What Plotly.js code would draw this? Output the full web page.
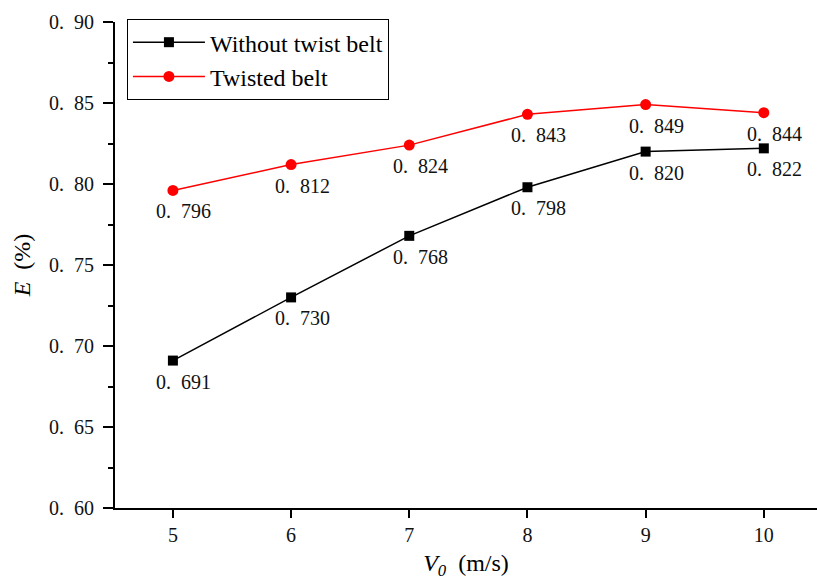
<!DOCTYPE html>
<html><head><meta charset="utf-8">
<script src="https://cdn.plot.ly/plotly-3.0.1.min.js"></script>
<style>body{margin:0;background:#fff}#c{width:817px;height:580px}</style>
</head><body><div id="c"></div>
<script>
const speeds = [5, 6, 7, 8, 9, 10];
const withoutTwist = [0.691, 0.730, 0.768, 0.798, 0.820, 0.822];
const twisted = [0.796, 0.812, 0.824, 0.843, 0.849, 0.844];
const yTickVals = [0.60, 0.65, 0.70, 0.75, 0.80, 0.85, 0.90];
const yTickText = ["0.\u200260", "0.\u200265", "0.\u200270", "0.\u200275", "0.\u200280", "0.\u200285", "0.\u200290"];
const xTickVals = [5, 6, 7, 8, 9, 10];

const fmt = v => v.toFixed(3).replace('.', '.\u2002');
const serif = "'Liberation Serif', 'Times New Roman', serif";
const numFont = {family: serif, size: 20, color: "#111"};

const traces = [
  {x: speeds, y: withoutTwist, name: "Without twist belt", mode: "lines+markers",
   line: {color: "#000", width: 1.5}, marker: {symbol: "square", size: 10, color: "#000"}},
  {x: speeds, y: twisted, name: "Twisted belt", mode: "lines+markers",
   line: {color: "#ff0000", width: 1.5}, marker: {symbol: "circle", size: 11, color: "#ff0000"}}
];

const annotations = [];
[withoutTwist, twisted].forEach(series => {
  series.forEach((v, i) => {
    annotations.push({x: speeds[i], y: v, xref: "x", yref: "y", text: fmt(v), showarrow: false,
      xanchor: "center", yanchor: "top", xshift: 11, yshift: -8, font: numFont});
  });
});

const layout = {
  width: 817, height: 580,
  margin: {l: 115, r: 0, t: 22, b: 72},
  paper_bgcolor: "#fff", plot_bgcolor: "#fff",
  showlegend: true,
  annotations: annotations,
  legend: {x: 0.017, y: 1.006, xanchor: "left", yanchor: "top",
           bordercolor: "#000", borderwidth: 1, bgcolor: "#fff", itemwidth: 72,
           font: {family: serif, size: 24, color: "#000"}, tracegroupgap: 0},
  xaxis: {range: [4.51, 10.45], tickvals: xTickVals, ticks: "outside", ticklen: 8, tickwidth: 2,
          tickcolor: "#000", showline: true, linecolor: "#000", linewidth: 2, showgrid: false,
          zeroline: false, tickfont: numFont,
          title: {text: "<i>V<sub>0</sub></i>  (m/s)", font: {family: serif, size: 24, color: "#000"}, standoff: 16}},
  yaxis: {range: [0.60, 0.90], tickvals: yTickVals, ticktext: yTickText, ticks: "outside", ticklen: 10, tickwidth: 2,
          tickcolor: "#000", showline: true, linecolor: "#000", linewidth: 2, showgrid: false,
          zeroline: false, tickfont: numFont, ticklabelstandoff: 5,
          minor: {ticks: "outside", ticklen: 5, tickwidth: 2, tickcolor: "#000", dtick: 0.025, tick0: 0.6, showgrid: false},
          title: {text: "<i>E</i>  (%)", font: {family: serif, size: 24, color: "#000"}, standoff: 12}}
};

Plotly.newPlot("c", traces, layout, {displayModeBar: false, staticPlot: true});
</script>
</body></html>
